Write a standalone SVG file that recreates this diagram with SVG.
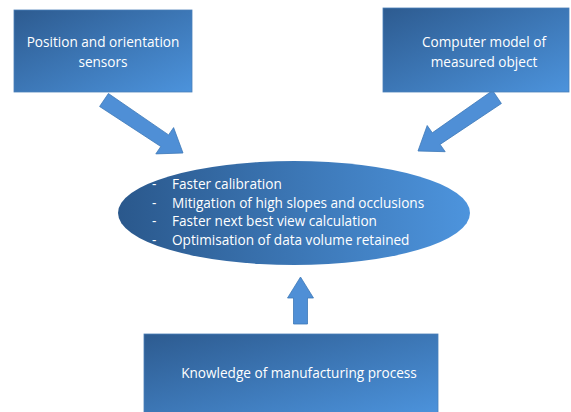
<svg xmlns="http://www.w3.org/2000/svg" width="571" height="412" viewBox="0 0 571 412">
<defs>
<linearGradient id="boxg" x1="0" y1="0" x2="1" y2="1">
<stop offset="0" stop-color="#2d5b90"/>
<stop offset="1" stop-color="#4c93dc"/>
</linearGradient>
<linearGradient id="ellg" x1="0" y1="0" x2="1" y2="0">
<stop offset="0" stop-color="#2a588c"/>
<stop offset="1" stop-color="#4d94dd"/>
</linearGradient>
</defs>
<style>
.box{fill:url(#boxg);stroke:#4a7fb8;stroke-width:0.8}
.ell{fill:url(#ellg)}
.arr{fill:#4f8fd6;stroke:#3e78b8;stroke-width:0.8}
text{font-family:"Open Sans","Liberation Sans",Arial,sans-serif;font-size:13.6px;fill:#ffffff}
.c{text-anchor:middle}
</style>
<rect width="571" height="412" fill="#ffffff"/>
<g id="connectors">
<polygon class="arr" points="108.4,93.5 168.6,134.9 173.6,127.6 183,153 155.8,153.9 160.8,146.5 99.6,106.5"/>
<polygon class="arr" points="492.6,90.5 432.3,132.8 427.2,125.5 418,151 445.2,151.7 440.1,144.4 501.4,103.5"/>
<polygon class="arr" points="293.5,324 293.5,298 287.5,298 300.5,277 313.5,298 307.5,298 307.5,324"/>
</g>
<g id="sensors">
<rect class="box" x="14" y="10" width="178" height="82"/>
<text class="c" x="103" y="47">Position and orientation</text>
<text class="c" x="103" y="67">sensors</text>
</g>
<g id="model">
<rect class="box" x="383" y="8" width="186" height="84"/>
<text class="c" x="484" y="47">Computer model of</text>
<text class="c" x="484" y="67">measured object</text>
</g>
<g id="benefits">
<ellipse class="ell" cx="294" cy="213" rx="176" ry="52"/>
<text x="152" y="189">-</text><text x="172" y="189">Faster calibration</text>
<text x="152" y="208">-</text><text x="172" y="208">Mitigation of high slopes and occlusions</text>
<text x="152" y="226">-</text><text x="172" y="226">Faster next best view calculation</text>
<text x="152" y="245">-</text><text x="172" y="245">Optimisation of data volume retained</text>
</g>
<g id="knowledge">
<rect class="box" x="144" y="334" width="294" height="80"/>
<text class="c" x="299" y="378">Knowledge of manufacturing process</text>
</g>
</svg>
